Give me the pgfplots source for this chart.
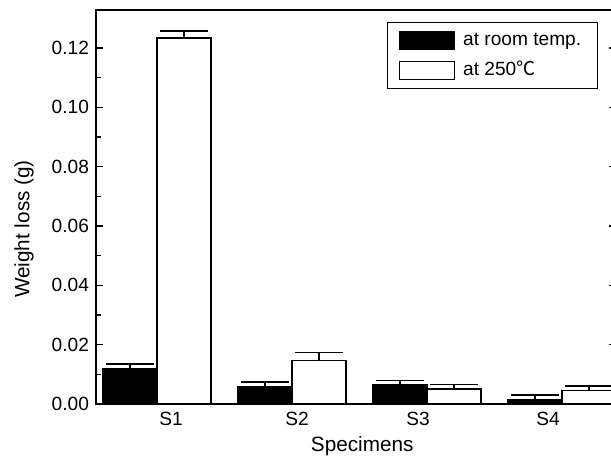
\documentclass[border=0pt]{standalone}
\usepackage{pgfplots}
\pgfplotsset{compat=1.18}
\usepackage{fontspec}
\setmainfont{Liberation Sans}
\newfontfamily\cjk{Noto Sans CJK SC}
\begin{document}
\begin{tikzpicture}
\useasboundingbox (-48bp,-27.5bp) rectangle (257.5bp,202bp);
\clip (-48bp,-27.5bp) rectangle (257.5bp,202bp);
\begin{axis}[
 at={(0,0)}, anchor=south west,
 scale only axis, width=260bp, height=197bp,
 xmin=0.548, xmax=4.400, ymin=0, ymax=0.1328,
 axis line style={line width=1bp},
 xtick={1.104,2.037,2.933,3.896}, xticklabels={S1,S2,S3,S4},
 x tick style={draw=none},
 ytick={0,0.02,0.04,0.06,0.08,0.10,0.12}, minor y tick num=1,
 tick align=inside,
 major tick length=3.5bp, minor tick length=2.5bp,
 y tick style={line width=0.8bp, black},
 yticklabel style={/pgf/number format/fixed, /pgf/number format/fixed zerofill, /pgf/number format/precision=2},
 /pgf/number format/assume math mode=true,
 tick label style={font=\fontsize{9.6}{11}\selectfont},
 xticklabel style={anchor=center, yshift=-7.5bp},
 label style={font=\fontsize{10.4}{12}\selectfont},
 xlabel={Specimens}, ylabel={Weight loss (g)},
 xlabel style={at={(axis description cs:0.512,0)}, anchor=center, yshift=-21bp},
 ylabel style={at={(axis description cs:-0.1385,0.444)}, anchor=center},
 legend style={at={(axis description cs:0.965,0.9695)}, anchor=north east, draw=black, line width=0.6bp,
   font=\fontsize{9.6}{11}\selectfont, inner xsep=6bp, inner ysep=2.5bp, row sep=2bp,
   nodes={inner sep=2bp, text height=7bp, text depth=2bp}},
 legend cell align=left,
 legend image code/.code={\path[use as bounding box, draw=none, fill=none] (0bp,-4.5bp) rectangle (30bp,4.5bp);
   \draw[#1, line width=0.6bp] (0bp,-4.5bp) rectangle (27.5bp,4.5bp);},
]
\addplot[ybar, bar width=27bp, bar shift=0bp, fill=black, draw=black, line width=0.8bp,
  error bars/.cd, y dir=plus, y explicit, error bar style={line width=0.7bp, black},
  error mark options={rotate=90, mark size=12bp, line width=0.7bp, black}]
  coordinates {(0.8,0.0118) +- (0,0.0017) (1.8,0.0058) +- (0,0.0016) (2.8,0.0064) +- (0,0.0015) (3.8,0.0013) +- (0,0.0017)};
\addlegendentry{at room temp.}
\addplot[ybar, bar width=27bp, bar shift=0bp, fill=white, draw=black, line width=0.8bp,
  error bars/.cd, y dir=plus, y explicit, error bar style={line width=0.7bp, black},
  error mark options={rotate=90, mark size=12bp, line width=0.7bp, black}]
  coordinates {(1.2,0.1233) +- (0,0.0024) (2.2,0.0146) +- (0,0.0027) (3.2,0.0051) +- (0,0.0015) (4.2,0.0045) +- (0,0.0016)};
\addlegendentry{at 250{\cjk ℃}}
\end{axis}
\end{tikzpicture}
\end{document}
